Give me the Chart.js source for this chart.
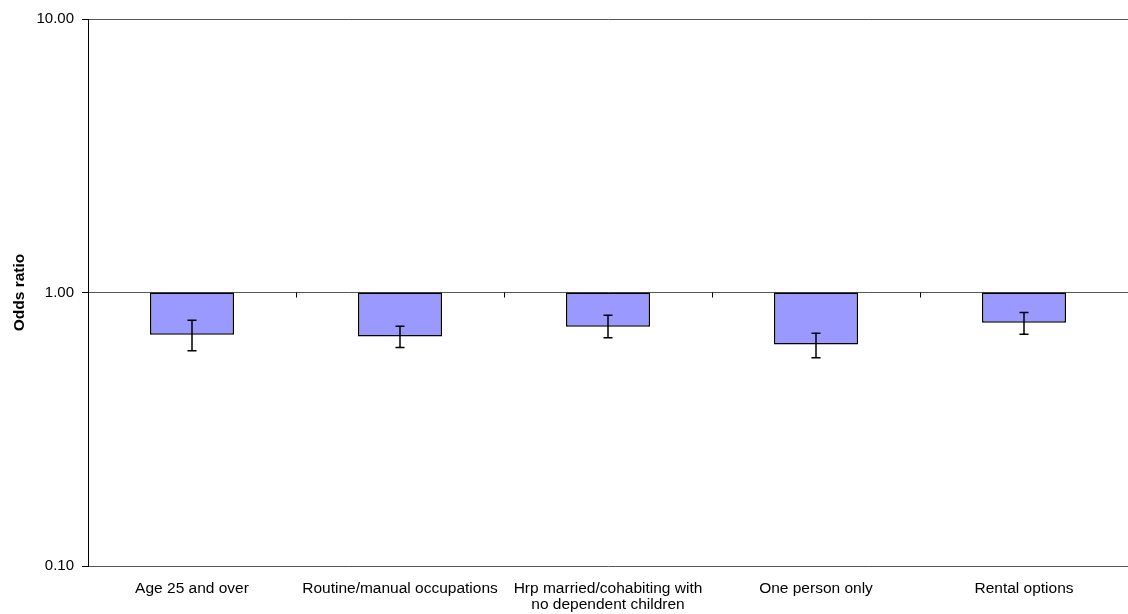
<!DOCTYPE html>
<html>
<head>
<meta charset="utf-8">
<script src="https://cdn.jsdelivr.net/npm/chart.js@4/dist/chart.umd.min.js"></script>
<style>
html,body{margin:0;padding:0;background:#fff;}
#wrap{width:1128px;height:614px;}
</style>
</head>
<body>
<div id="wrap"><canvas id="c" width="1128" height="614"></canvas></div>
<script>
const categories = ["Age 25 and over", "Routine/manual occupations", ["Hrp married/cohabiting with", "no dependent children"], "One person only", "Rental options"];
const oddsRatios = [0.70, 0.69, 0.75, 0.645, 0.775];
const ciLower = [0.613, 0.629, 0.683, 0.577, 0.704];
const ciUpper = [0.792, 0.753, 0.826, 0.710, 0.845];
const yTickValues = [0.1, 1, 10];
const baseline = 1;

const FONT = 'Liberation Sans, Arial, sans-serif';

const errorBars = {
  id: 'errorBars',
  afterDatasetsDraw(chart) {
    const ctx = chart.ctx;
    const y = chart.scales.y;
    const meta = chart.getDatasetMeta(0);
    ctx.save();
    ctx.strokeStyle = '#000';
    ctx.lineWidth = 1.5;
    meta.data.forEach((bar, i) => {
      const x = bar.x;
      const yl = y.getPixelForValue(ciLower[i]);
      const yu = y.getPixelForValue(ciUpper[i]);
      ctx.beginPath();
      ctx.moveTo(x, yl); ctx.lineTo(x, yu);
      ctx.moveTo(x - 4.5, yl); ctx.lineTo(x + 4.5, yl);
      ctx.moveTo(x - 4.5, yu); ctx.lineTo(x + 4.5, yu);
      ctx.stroke();
    });
    // category tick marks on the baseline
    const xs = chart.scales.x;
    const yb = y.getPixelForValue(baseline);
    ctx.strokeStyle = '#000';
    ctx.lineWidth = 1;
    for (let i = 1; i < categories.length; i++) {
      const px = Math.round((xs.getPixelForValue(i - 1) + xs.getPixelForValue(i)) / 2) + 0.5;
      ctx.beginPath();
      ctx.moveTo(px, yb); ctx.lineTo(px, yb + 5);
      ctx.stroke();
    }
    ctx.restore();
  }
};

new Chart(document.getElementById('c'), {
  type: 'bar',
  data: {
    labels: categories,
    datasets: [{
      data: oddsRatios.map(v => [v, baseline]),
      backgroundColor: '#9999FF',
      borderColor: '#000',
      borderWidth: 1.5,
      borderSkipped: false,
      categoryPercentage: 1,
      barPercentage: 0.404
    }]
  },
  options: {
    responsive: false,
    animation: false,
    devicePixelRatio: 1,
    layout: { padding: { top: 19, right: 0, left: 0, bottom: 0 } },
    plugins: { legend: { display: false }, tooltip: { enabled: false } },
    scales: {
      x: {
        grid: { display: false, drawTicks: false },
        border: { display: false },
        ticks: {
          color: '#000',
          font: { family: FONT, size: 15.5, lineHeight: 1.08 },
          padding: 14,
          maxRotation: 0,
          autoSkip: false
        },
        afterFit(s) { s.height = 48; }
      },
      y: {
        type: 'logarithmic',
        min: 0.1,
        max: 10,
        afterBuildTicks(s) { s.ticks = yTickValues.map(v => ({ value: v })); },
        grid: { color: '#555', lineWidth: 1, tickLength: 6, tickColor: '#000' },
        border: { color: '#000', width: 1 },
        ticks: {
          color: '#000',
          font: { family: FONT, size: 15 },
          padding: 8,
          callback: (v) => Number(v).toFixed(2)
        },
        title: {
          display: true,
          text: 'Odds ratio',
          color: '#000',
          font: { family: FONT, size: 15.5, weight: 'bold' },
          padding: { top: 10, bottom: 0 }
        },
        afterFit(s) { s.width = 88; }
      }
    }
  },
  plugins: [errorBars]
});
</script>
</body>
</html>
